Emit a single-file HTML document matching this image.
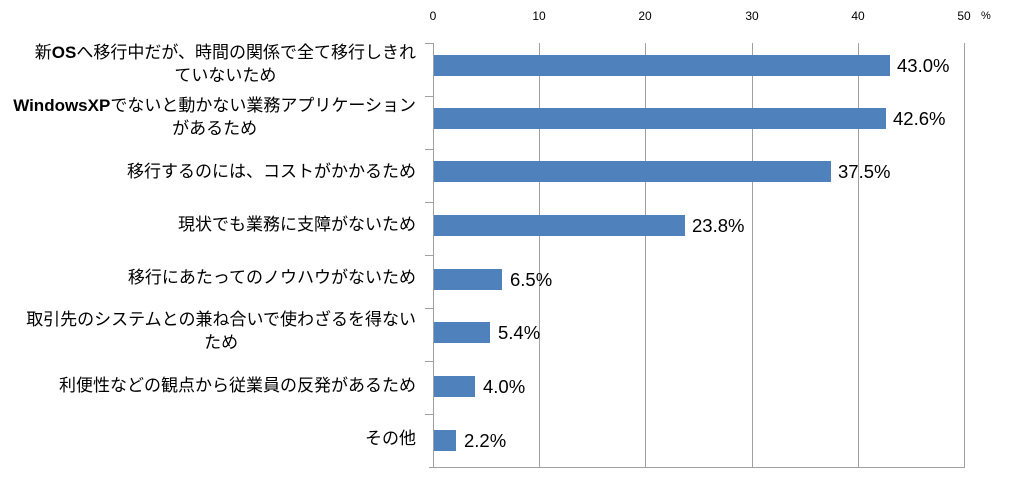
<!DOCTYPE html>
<html><head><meta charset="utf-8"><style>
body{margin:0;background:#fff;width:1032px;height:480px;overflow:hidden;position:relative;font-family:"Liberation Sans","Noto Sans CJK JP",sans-serif;}
.t{position:absolute;top:9px;font-size:12px;color:#000;transform:translateX(-50%);}
.lab{position:absolute;right:616px;text-align:center;font-size:17px;line-height:23px;color:#000;white-space:nowrap;}
.lab b{font-weight:bold;}
.bar{position:absolute;left:434px;height:21px;background:#4f81bd;}
.v{position:absolute;font-size:18.5px;color:#000;line-height:21px;}
.g{position:absolute;top:43px;height:424px;width:1px;background:#a0a0a0;}
.tk{position:absolute;left:425px;width:8px;height:1px;background:#a0a0a0;}
</style></head><body>
<div class="t" style="left:433px">0</div>
<div class="t" style="left:539px">10</div>
<div class="t" style="left:645px">20</div>
<div class="t" style="left:752px">30</div>
<div class="t" style="left:858px">40</div>
<div class="t" style="left:964px">50</div>
<div style="position:absolute;left:981px;top:10px;font-size:11px">%</div>
<div class="g" style="left:433px"></div>
<div class="g" style="left:539px"></div>
<div class="g" style="left:645px"></div>
<div class="g" style="left:752px"></div>
<div class="g" style="left:858px"></div>
<div class="g" style="left:964px"></div>
<div style="position:absolute;left:429px;top:467px;width:536px;height:1px;background:#a0a0a0"></div>
<div class="tk" style="top:43px"></div><div class="tk" style="top:96px"></div><div class="tk" style="top:149px"></div><div class="tk" style="top:202px"></div><div class="tk" style="top:255px"></div><div class="tk" style="top:308px"></div><div class="tk" style="top:361px"></div><div class="tk" style="top:414px"></div>

<div class="lab" style="top:41px">新<b>OS</b>へ移行中だが、時間の関係で全て移行しきれ<br>ていないため</div>
<div class="lab" style="top:94px"><b>WindowsXP</b>でないと動かない業務アプリケーション<br>があるため</div>
<div class="lab" style="top:160px">移行するのには、コストがかかるため</div>
<div class="lab" style="top:213px">現状でも業務に支障がないため</div>
<div class="lab" style="top:266px">移行にあたってのノウハウがないため</div>
<div class="lab" style="top:308px">取引先のシステムとの兼ね合いで使わざるを得ない<br>ため</div>
<div class="lab" style="top:374px">利便性などの観点から従業員の反発があるため</div>
<div class="lab" style="top:427px">その他</div>

<div class="bar" style="top:55px;width:456px"></div><div class="v" style="left:897px;top:55px">43.0%</div>
<div class="bar" style="top:108px;width:452px"></div><div class="v" style="left:893px;top:108px">42.6%</div>
<div class="bar" style="top:161px;width:397px"></div><div class="v" style="left:838px;top:161px">37.5%</div>
<div class="bar" style="top:215px;width:251px"></div><div class="v" style="left:692px;top:215px">23.8%</div>
<div class="bar" style="top:269px;width:68px"></div><div class="v" style="left:510px;top:269px">6.5%</div>
<div class="bar" style="top:322px;width:56px"></div><div class="v" style="left:498px;top:322px">5.4%</div>
<div class="bar" style="top:376px;width:41px"></div><div class="v" style="left:483px;top:376px">4.0%</div>
<div class="bar" style="top:430px;width:22px"></div><div class="v" style="left:464px;top:430px">2.2%</div>
</body></html>
